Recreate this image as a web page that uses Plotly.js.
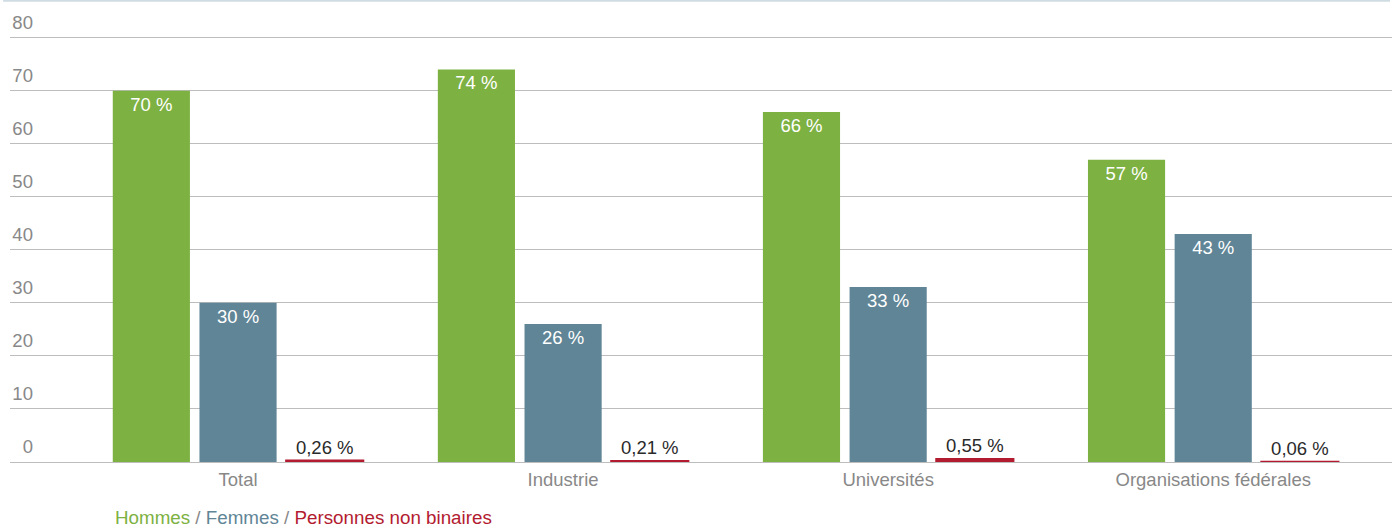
<!DOCTYPE html>
<html>
<head>
<meta charset="utf-8">
<script src="https://cdn.plot.ly/plotly-3.0.1.min.js"></script>
<style>html,body{margin:0;padding:0;background:#fff;}#chart{width:1392px;height:529px;}</style>
</head>
<body>
<div id="chart"></div>
<script>
const categories = ["Total", "Industrie", "Universités", "Organisations fédérales"];
const hommes = [70, 74, 66, 57];
const femmes = [30, 26, 33, 43];
const nonBinaires = [0.26, 0.21, 0.55, 0.06];
const yTicks = [0, 10, 20, 30, 40, 50, 60, 70, 80];

const fmt = v => String(v).replace('.', ',') + ' %';
const FONT = 'Liberation Sans, Arial, Helvetica, sans-serif';
const FS = 18.5;
const GREEN = '#7db142', BLUE = '#5f8596', RED = '#b31b30';

const traces = [
  {type:'bar', name:'Hommes', x:categories, y:hommes, marker:{color:GREEN},
   text:hommes.map(fmt), textposition:'inside', insidetextanchor:'end',
   textfont:{color:'#ffffff', size:FS, family:FONT}, hoverinfo:'none'},
  {type:'bar', name:'Femmes', x:categories, y:femmes, marker:{color:BLUE},
   text:femmes.map(fmt), textposition:'inside', insidetextanchor:'end',
   textfont:{color:'#ffffff', size:FS, family:FONT}, hoverinfo:'none'},
  {type:'bar', name:'Personnes non binaires', x:categories, y:nonBinaires,
   marker:{color:RED, line:{color:RED, width:2}},
   text:nonBinaires.map(fmt), textposition:'outside', cliponaxis:false,
   textfont:{color:'#2a2a2a', size:FS, family:FONT}, hoverinfo:'none'}
];

const layout = {
  width:1392, height:529,
  margin:{l:10, r:0, t:35, b:67},
  paper_bgcolor:'#ffffff', plot_bgcolor:'#ffffff',
  font:{family:FONT, size:FS, color:'#888888'},
  showlegend:false,
  barmode:'group', bargap:0.2, bargroupgap:0.11,
  uniformtext:{mode:false},
  xaxis:{type:'category', range:[-0.7015, 3.55], showgrid:false, zeroline:false,
         showline:false, ticks:'', ticklabelstandoff:4,
         tickfont:{size:FS, color:'#888888'}, fixedrange:true},
  yaxis:{range:[0, 80.5], tickvals:yTicks, ticktext:yTicks.map(String),
         anchor:'free', position:0.0166, side:'left',
         showgrid:true, gridcolor:'#bdbdbd', gridwidth:1,
         zeroline:true, zerolinecolor:'#bdbdbd', zerolinewidth:1,
         showline:false, ticks:'', ticklabelshift:-15,
         tickfont:{size:FS, color:'#888888'}, fixedrange:true},
  shapes:[{type:'line', xref:'paper', yref:'paper', x0:-0.005, x1:0.9986,
           y0:1.0803, y1:1.0803, line:{color:'#cfdde3', width:2}}],
  annotations:[{xref:'paper', yref:'paper', x:0.0745, y:-0.131,
    xanchor:'left', yanchor:'middle', showarrow:false,
    font:{size:18.8, family:FONT},
    text:'<span style="color:'+GREEN+'">Hommes</span><span style="color:#888888"> / </span>'+
         '<span style="color:'+BLUE+'">Femmes</span><span style="color:#888888"> / </span>'+
         '<span style="color:'+RED+'">Personnes non binaires</span>'}]
};

Plotly.newPlot('chart', traces, layout, {displayModeBar:false, staticPlot:true});
</script>
</body>
</html>
